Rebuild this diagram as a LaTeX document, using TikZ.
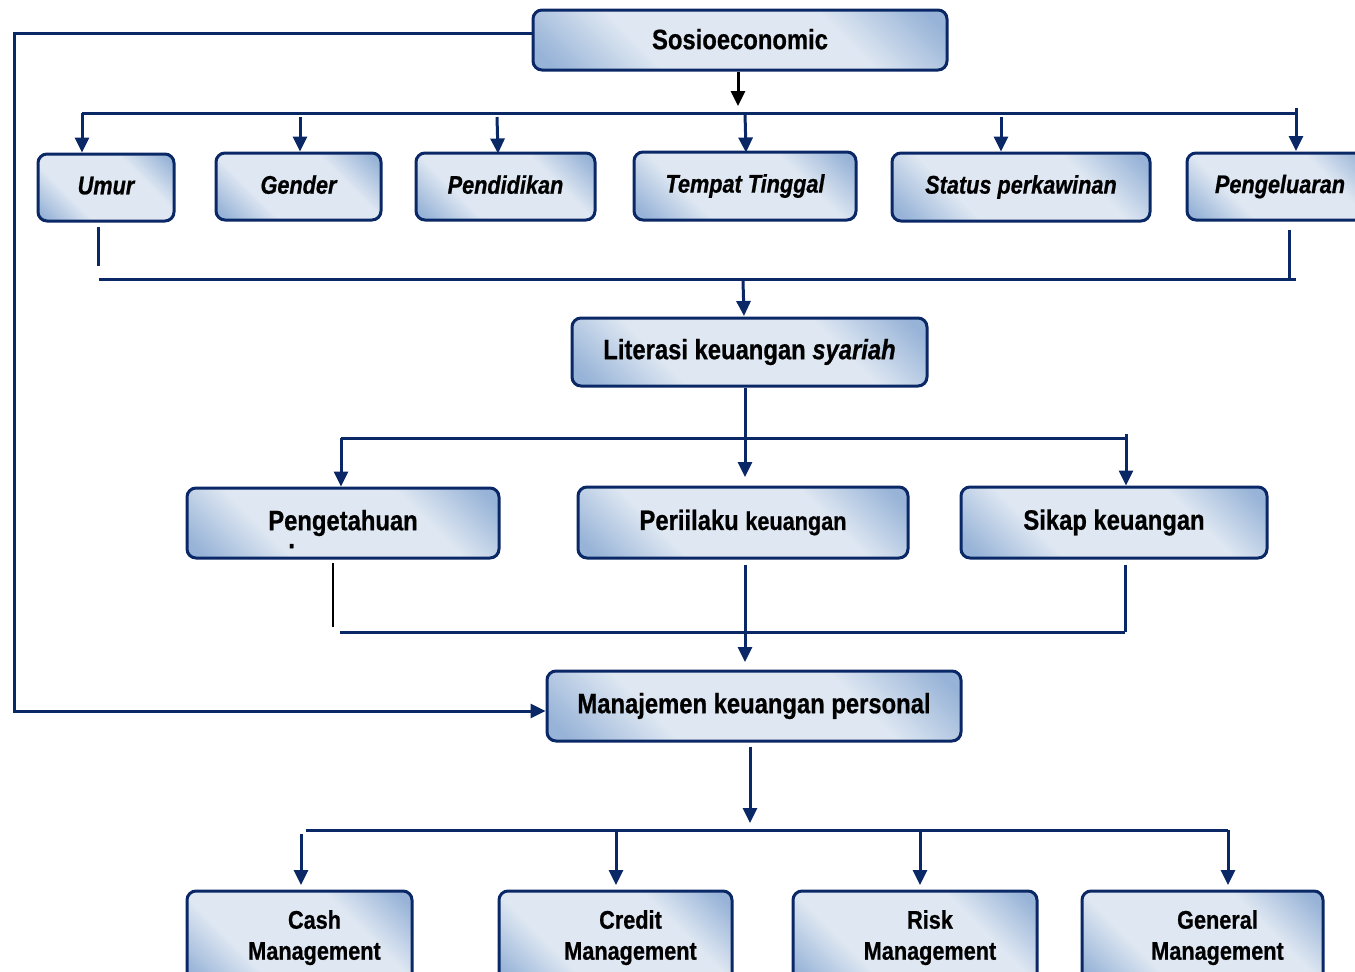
\documentclass[tikz,border=0pt]{standalone}
\usepackage{fontspec}
\setmainfont{Liberation Sans}[FakeStretch=0.85,
  BoldFeatures={FakeBold=0.7}, BoldItalicFeatures={FakeBold=0.7}]
\usetikzlibrary{arrows.meta}
\definecolor{navy}{HTML}{0A2766}
\definecolor{bd}{HTML}{97B3D7}
\definecolor{bl}{HTML}{DEE7F2}
\pgfdeclareverticalshading{boxsh}{100bp}{color(0bp)=(bd); color(18bp)=(bd); color(34bp)=(bl); color(66bp)=(bl); color(82bp)=(bd); color(100bp)=(bd)}
\begin{document}
\begin{tikzpicture}[x=1pt,y=-1pt,
  box/.style={draw=navy, line width=3pt, rounded corners=9pt,
    shading=boxsh, shading angle=-45,
    inner sep=0pt, text=black, font=\bfseries\fontsize{28}{33}\selectfont},
  sub/.style={box, font=\bfseries\itshape\fontsize{25.5}{30}\selectfont},
  mg/.style={box, font=\bfseries\fontsize{25.5}{31}\selectfont},
  ln/.style={draw=navy, line width=3pt},
  arr/.style={ln, -{Triangle[width=14pt,length=15pt]}},
  arrb/.style={draw=black, line width=3pt, -{Triangle[width=14pt,length=15pt]}},
  thin/.style={draw=black, line width=2pt},
]
\useasboundingbox (0,0) rectangle (1355,972);
\clip (0,0) rectangle (1355,972);

% boxes
\node[box, minimum width=414, minimum height=60] (sos) at (740,40) {\raisebox{2pt}{Sosioeconomic}};
\node[sub, minimum width=136, minimum height=67] (umur) at (106,187.5) {\raisebox{4pt}{Umur}};
\node[sub, minimum width=165, minimum height=67] (gender) at (298.5,186.5) {\raisebox{4pt}{Gender}};
\node[sub, minimum width=179, minimum height=67] (pend) at (505.5,186.5) {\raisebox{4pt}{Pendidikan}};
\node[sub, minimum width=222, minimum height=68] (tempat) at (745,186) {\raisebox{4pt}{Tempat Tinggal}};
\node[sub, minimum width=258, minimum height=68] (status) at (1021,187) {\raisebox{3pt}{Status perkawinan}};
\node[sub, minimum width=186, minimum height=67] (peng) at (1280,186.5) {\raisebox{4pt}{Pengeluaran}};
\node[box, minimum width=355, minimum height=68] (lit) at (749.5,352) {Literasi keuangan \textit{syariah}};
\node[box, minimum width=312, minimum height=70] (tahu) at (343,523) {\rlap{\hspace*{20pt}\smash{\raisebox{-16pt}{.}}}\raisebox{2pt}{Pengetahuan}};
\node[box, minimum width=330, minimum height=71] (peri) at (743,522.5) {\raisebox{3pt}{Periilaku {\fontsize{25.5}{30}\selectfont keuangan}}};
\node[box, minimum width=306, minimum height=71] (sikap) at (1114,522.5) {\raisebox{3pt}{Sikap keuangan}};
\node[box, minimum width=414, minimum height=70] (man) at (754,706) {\raisebox{1pt}{Manajemen keuangan personal}};
\node[mg, minimum width=225, minimum height=94] (cash) at (299.5,938) {\hspace*{30pt}\begin{tabular}{@{}c@{}}Cash\\Management\end{tabular}};
\node[mg, minimum width=233, minimum height=94] (credit) at (615.5,938) {\hspace*{30pt}\begin{tabular}{@{}c@{}}Credit\\Management\end{tabular}};
\node[mg, minimum width=244, minimum height=94] (risk) at (915,938) {\hspace*{30pt}\begin{tabular}{@{}c@{}}Risk\\Management\end{tabular}};
\node[mg, minimum width=241, minimum height=94] (general) at (1202.5,938) {\hspace*{30pt}\begin{tabular}{@{}c@{}}General\\Management\end{tabular}};

% feedback loop from Sosioeconomic to Manajemen
\coordinate (fbtop) at (14,33);
\coordinate (fbbot) at (14,711);
\draw[arr] (sos.west |- fbtop) -- (fbtop) -- (fbbot) -- (man.west |- fbbot);

% Sosioeconomic down to bus 1
\coordinate (s1) at (738,106);
\draw[arrb] (sos.south -| s1) -- (s1);
\coordinate (b1L) at (82,113);
\coordinate (b1R) at (1296,113);
\draw[ln] (b1L) -- (b1R);
\draw[arr] (b1L) -- (umur.north -| b1L);
\coordinate (g1) at (300,117);
\draw[arr] (g1) -- (gender.north -| g1);
\coordinate (p1) at (497,117);
\draw[arr] (p1) -- (498,153.5);
\coordinate (t1) at (745,113);
\draw[arr] (t1) -- (746,152.5);
\coordinate (st1) at (1001,117);
\draw[arr] (st1) -- (status.north -| st1);
\coordinate (pe1) at (1296,108);
\coordinate (pe2) at (1296,151);
\draw[arr] (pe1) -- (pe2);

% bus 2 to Literasi
\coordinate (u2a) at (98,227);
\coordinate (u2b) at (98,266);
\draw[ln] (u2a) -- (u2b);
\coordinate (b2L) at (99,279);
\coordinate (b2R) at (1296,279);
\draw[ln] (b2L) -- (b2R);
\coordinate (pg2a) at (1289,230);
\coordinate (pg2b) at (1289,279);
\draw[ln] (pg2a) -- (pg2b);
\coordinate (l2) at (743,281);
\draw[arr] (l2) -- (744,316);

% Literasi down to bus 3
\coordinate (l3) at (745,477);
\draw[arr] (lit.south -| l3) -- (l3);
\coordinate (b3L) at (341,438);
\coordinate (b3R) at (1126,438);
\draw[ln] (b3L) -- (b3R);
\draw[arr] (b3L) -- (tahu.north -| b3L);
\coordinate (b3T) at (1126,434);
\draw[arr] (b3T) -- (sikap.north -| b3T);

% bus 4 to Manajemen
\coordinate (t4a) at (333,563);
\coordinate (t4b) at (333,627);
\draw[thin] (t4a) -- (t4b);
\coordinate (b4L) at (340,632);
\coordinate (b4R) at (1125,632);
\draw[ln] (b4L) -- (b4R);
\coordinate (sk4) at (1125,565);
\draw[ln] (sk4) -- (b4R);
\coordinate (m4a) at (745,565);
\coordinate (m4b) at (745,662);
\draw[arr] (m4a) -- (m4b);

% Manajemen down to bus 5
\coordinate (m5) at (750,823);
\draw[arr] (man.south -| m5) ++(0,4) -- (m5);
\coordinate (b5L) at (306,830);
\coordinate (b5R) at (1228,830);
\draw[ln] (b5L) -- (b5R);
\coordinate (c5a) at (301,834);
\coordinate (c5b) at (301,885);
\draw[arr] (c5a) -- (c5b);
\coordinate (cr5) at (616,830);
\draw[arr] (cr5) -- (616,885);
\coordinate (r5) at (920,830);
\draw[arr] (r5) -- (920,885);
\draw[arr] (b5R) -- (1228,885);
\end{tikzpicture}
\end{document}
